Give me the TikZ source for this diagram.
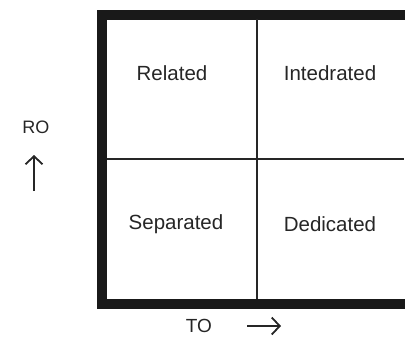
\documentclass[tikz,border=0pt]{standalone}
\usepackage{fontspec}
\setmainfont{Liberation Sans}
\usetikzlibrary{arrows.meta}
\begin{document}
\begin{tikzpicture}[x=1pt,y=-1pt,
  lab/.style={font=\fontsize{20.5}{24}\selectfont, text=black!85, inner sep=0pt},
  axis/.style={draw=black!85, line width=1.8pt, -{Straight Barb[length=8pt,width=17pt,line width=1.8pt]}}]
\useasboundingbox (0,0) rectangle (405,343);
% thick outer frame
\draw[line width=10pt, black!90] (102,14.5) rectangle (409.5,304);
% dividers
\draw[line width=2.4pt, black!85] (257,19) -- (257,299);
\draw[line width=2.4pt, black!85] (107,159) -- (404,159);
% cell labels
\node[lab] (rel) at (172,73) {Related};
\node[lab] (int) at (330,73) {Intedrated};
\node[lab] (sep) at (176,224) {Separated};
\node[lab] (ded) at (330,224) {Dedicated};
% axes
\node[lab, font=\fontsize{18}{22}\selectfont] (ro) at (36,127) {RO};
\coordinate (ua) at (34,191);
\coordinate (ub) at (34,155);
\draw[axis] (ua) -- (ub);
\node[lab, font=\fontsize{19}{22}\selectfont] (to) at (199,326) {TO};
\coordinate (ra) at (247,326);
\coordinate (rb) at (281,326);
\draw[axis] (ra) -- (rb);
\end{tikzpicture}
\end{document}
